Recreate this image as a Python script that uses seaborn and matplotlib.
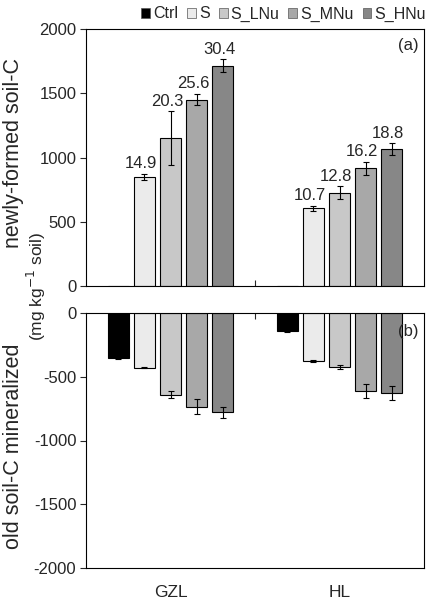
import pandas as pd
import numpy as np
import matplotlib
matplotlib.use("Agg")
import matplotlib.pyplot as plt
import seaborn as sns
from matplotlib.patches import Patch

# values
sites = ["GZL", "HL"]
treatments = ["Ctrl", "S", "S_LNu", "S_MNu", "S_HNu"]

new_gzl = [0, 850, 1150, 1450, 1715]
new_gzl_err = [0, 25, 210, 45, 50]
new_hl = [0, 605, 725, 915, 1065]
new_hl_err = [0, 20, 50, 50, 45]
new_labels_gzl = ["", "14.9", "20.3", "25.6", "30.4"]
new_labels_hl = ["", "10.7", "12.8", "16.2", "18.8"]

old_gzl = [-350, -430, -640, -735, -780]
old_gzl_err = [10, 5, 25, 60, 40]
old_hl = [-143, -375, -425, -608, -630]
old_hl_err = [8, 8, 18, 55, 55]

colors = ["#000000", "#ebebeb", "#c8c8c8", "#a8a8a8", "#878787"]


def make_frame(gzl, hl, gzl_err, hl_err):
    rows = []
    for site, vals, errs in [("GZL", gzl, gzl_err), ("HL", hl, hl_err)]:
        for t, v, e in zip(treatments, vals, errs):
            rows.append({"site": site, "treatment": t, "value": v, "err": e})
    return pd.DataFrame(rows)


def draw_bars(ax, df):
    sns.barplot(data=df, x="site", y="value", hue="treatment",
                order=sites, hue_order=treatments, palette=colors,
                width=0.77, gap=0.2, errorbar=None, edgecolor="black",
                linewidth=0.8, legend=False, ax=ax)
    # error bars at the bar centres
    patches = [p for p in ax.patches][:len(df)]
    lookup = {}
    i = 0
    for t in treatments:
        for s in sites:
            lookup[(s, t)] = patches[i]
            i += 1
    for _, r in df.iterrows():
        p = lookup[(r["site"], r["treatment"])]
        if r["err"] > 0:
            ax.errorbar(p.get_x() + p.get_width() / 2, r["value"], yerr=r["err"],
                        fmt="none", ecolor="black", elinewidth=0.8, capsize=2.5,
                        capthick=0.8)
    return lookup


sns.set_style("white")
plt.rcParams["font.family"] = ["Liberation Sans Narrow", "Liberation Sans", "DejaVu Sans"]
plt.rcParams["axes.unicode_minus"] = False

fig = plt.figure(figsize=(4.29, 6.10), dpi=100)
W, H = 429, 610
ax1 = fig.add_axes([86 / W, (H - 286) / H, 338 / W, 257 / H])
ax2 = fig.add_axes([86 / W, (H - 568) / H, 338 / W, 255 / H])

df_new = make_frame(new_gzl, new_hl, new_gzl_err, new_hl_err)
df_old = make_frame(old_gzl, old_hl, old_gzl_err, old_hl_err)

look1 = draw_bars(ax1, df_new)
draw_bars(ax2, df_old)

# numbers above the top bars
for site, labs, vals, errs in [("GZL", new_labels_gzl, new_gzl, new_gzl_err),
                               ("HL", new_labels_hl, new_hl, new_hl_err)]:
    for t, lab, v, e in zip(treatments, labs, vals, errs):
        if lab:
            p = look1[(site, t)]
            ax1.text(p.get_x() + p.get_width() / 2 - 0.02, v + e + 20, lab,
                     ha="center", va="bottom", fontsize=12)

for ax in (ax1, ax2):
    ax.set_xlim(-0.5, 1.5)
    ax.set_xlabel("")
    ax.set_ylabel("")
    for sp in ax.spines.values():
        sp.set_color("black")
        sp.set_linewidth(0.8)
    ax.tick_params(axis="y", direction="out", length=4, width=0.8, labelsize=12,
                   left=True, pad=3)

ax1.set_ylim(0, 2000)
ax1.set_yticks([0, 500, 1000, 1500, 2000])
ax1.set_xticks([0.5])
ax1.set_xticklabels([])
ax1.tick_params(axis="x", direction="in", length=4, width=0.8, bottom=True)
ax1.text(0.985, 0.965, "(a)", transform=ax1.transAxes, ha="right", va="top", fontsize=12)

ax2.set_ylim(-2000, 0)
ax2.set_yticks([0, -500, -1000, -1500, -2000])
ax2.set_xticks([0, 1])
ax2.set_xticklabels(sites, fontsize=12.5)
ax2.tick_params(axis="x", length=0, pad=12)
ax2.set_xticks([0.5], minor=True)
ax2.tick_params(axis="x", which="minor", direction="in", length=4, width=0.8,
                top=True, bottom=False)
ax2.text(0.985, 0.955, "(b)", transform=ax2.transAxes, ha="right", va="top", fontsize=12)

# y labels
fig.text(14 / W, 1 - 153 / H, "newly-formed soil-C", rotation=90, ha="center",
         va="center", fontsize=15.5)
fig.text(14 / W, 1 - 446 / H, "old soil-C mineralized", rotation=90, ha="center",
         va="center", fontsize=15.5)
fig.text(36 / W, 1 - 286 / H, "(mg kg$^{-1}$ soil)", rotation=90, ha="center",
         va="center", fontsize=12.5)

# legend
handles = [Patch(facecolor=c, edgecolor="#555555", linewidth=0.5) for c in colors]
fig.legend(handles, treatments, loc="center right", bbox_to_anchor=(426 / W, 1 - 14 / H),
           ncol=5, frameon=False, fontsize=11.5, handlelength=0.55, handleheight=0.6,
           handletextpad=0.2, columnspacing=0.55, borderaxespad=0, borderpad=0)

fig.savefig("out.png", dpi=100)
